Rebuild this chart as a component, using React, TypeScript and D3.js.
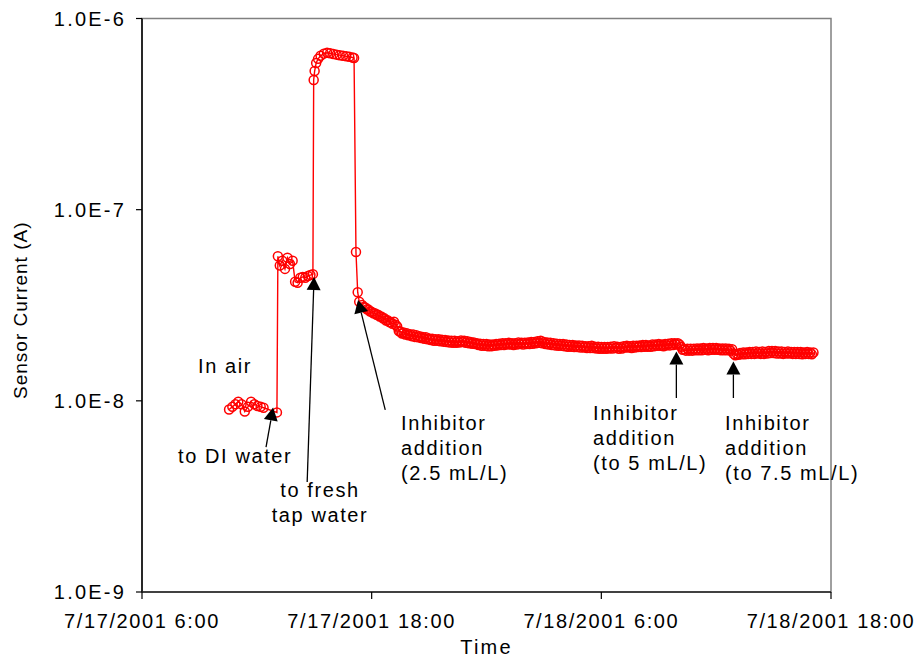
import React from "react";
import * as d3 from "d3";

// Sensor current log, 7/17/2001 - 7/18/2001
// Hour offsets are counted from 7/17/2001 0:00 (UTC used throughout).
const DAY0 = Date.UTC(2001, 6, 17);

const xTickHours = [6, 18, 30, 42];
const yTickValues = [1e-9, 1e-8, 1e-7, 1e-6];
const yTickLabels = ["1.0E-9", "1.0E-8", "1.0E-7", "1.0E-6"];

// Readings before the steady decay (hours, nA)
const earlyHours = [
  10.55, 10.72, 10.88, 11.03, 11.2, 11.37, 11.53, 11.7, 11.87, 12.03, 12.2, 12.35,
  13.05, 13.1, 13.2, 13.33, 13.47, 13.6, 13.73, 13.87, 14.0, 14.13, 14.27, 14.4,
  14.53, 14.67, 14.8, 14.93, 14.97, 15.02, 15.1, 15.2, 15.33, 15.5, 15.67, 15.83,
  16.0, 16.17, 16.33, 16.5, 16.67, 16.83, 17.0, 17.08, 17.18, 17.27, 17.35,
];
const earlyNA = [
  9.0, 9.3, 9.6, 9.9, 9.6, 8.8, 9.3, 9.9, 9.6, 9.4, 9.3, 9.2,
  8.7, 57, 51, 54, 49, 56, 52, 54, 42, 41.5, 44, 44.5,
  44, 45, 45.5, 46, 477, 531, 585, 615, 638, 655, 662, 658,
  652, 647, 643, 639, 634, 630, 625, 621, 60, 37, 33,
];

// Continuous logging from 17:30 on 7/17, one reading every 5 minutes (nA)
const bandStartHour = 17.5;
const bandStepMinutes = 5;
const bandNA = [
  31.7, 31.0, 30.8, 30.1, 30.0, 29.3, 29.2, 28.7, 28.7, 28.2, 28.2, 27.6,
  27.6, 27.0, 27.0, 26.3, 26.4, 25.8, 25.8, 25.3, 25.9, 25.0, 24.5, 23.2,
  23.0, 22.5, 22.8, 22.2, 22.6, 22.0, 22.3, 21.8, 22.2, 21.6, 22.0, 21.5,
  21.8, 21.3, 21.6, 21.1, 21.5, 21.0, 21.2, 20.8, 21.1, 20.6, 21.0, 20.6,
  21.0, 20.5, 20.9, 20.4, 20.8, 20.3, 20.7, 20.2, 20.6, 20.1, 20.6, 20.1,
  20.5, 20.2, 20.7, 20.3, 20.6, 20.1, 20.5, 20.0, 20.3, 19.9, 20.2, 19.8,
  20.0, 19.6, 19.9, 19.4, 19.8, 19.4, 19.8, 19.3, 19.7, 19.3, 19.7, 19.4,
  19.8, 19.5, 19.9, 19.6, 20.0, 19.6, 20.0, 19.7, 20.1, 19.7, 20.0, 19.6,
  20.0, 19.7, 20.2, 19.8, 20.1, 19.7, 20.1, 19.8, 20.2, 19.8, 20.3, 19.9,
  20.3, 20.0, 20.5, 20.1, 20.6, 20.0, 20.3, 19.8, 20.2, 19.7, 20.1, 19.6,
  20.0, 19.5, 19.9, 19.4, 19.8, 19.4, 19.8, 19.3, 19.7, 19.2, 19.6, 19.2,
  19.6, 19.1, 19.5, 19.1, 19.5, 19.0, 19.4, 19.0, 19.3, 18.9, 19.3, 18.9,
  19.4, 18.9, 19.2, 18.8, 19.2, 18.7, 19.1, 18.7, 19.1, 18.7, 19.1, 18.8,
  19.2, 18.8, 19.3, 18.9, 19.2, 18.7, 19.1, 18.8, 19.3, 19.0, 19.4, 19.0,
  19.3, 18.9, 19.4, 19.0, 19.4, 19.1, 19.5, 19.1, 19.6, 19.2, 19.6, 19.2,
  19.5, 19.2, 19.7, 19.3, 19.7, 19.4, 19.8, 19.4, 19.7, 19.3, 19.8, 19.5,
  19.9, 19.5, 20.0, 19.6, 20.0, 19.7, 20.0, 19.7, 19.2, 18.5, 18.6, 18.3,
  18.7, 18.3, 18.7, 18.3, 18.7, 18.4, 18.8, 18.4, 18.8, 18.4, 18.9, 18.5,
  18.8, 18.4, 18.9, 18.5, 18.9, 18.5, 18.9, 18.5, 18.8, 18.4, 18.8, 18.4,
  18.8, 18.4, 18.7, 18.3, 18.6, 17.6, 17.3, 17.6, 17.4, 17.8, 17.5, 17.9,
  17.5, 17.9, 17.6, 18.0, 17.6, 18.0, 17.6, 18.1, 17.7, 18.0, 17.6, 18.1,
  17.6, 18.0, 17.7, 18.2, 17.8, 18.2, 17.8, 18.2, 17.7, 18.1, 17.7, 18.1,
  17.6, 18.0, 17.7, 18.1, 17.7, 18.0, 17.6, 18.0, 17.6, 18.0, 17.6, 18.0,
  17.5, 17.9, 17.6, 18.0, 17.6, 17.9, 17.5, 17.9,
];

// Annotation arrows: tail and tip as [hour, current in A]
const arrowTails = [
  [12.48, 5.73e-9],
  [14.63, 3.76e-9],
  [18.71, 8.96e-9],
  [33.92, 1.035e-8],
  [36.9, 1.035e-8],
];
const arrowTips = [
  [12.85, 9.23e-9],
  [14.99, 4.44e-8],
  [17.29, 3.37e-8],
  [33.92, 1.81e-8],
  [36.9, 1.606e-8],
];

// Annotation text blocks
const noteLines = [
  ["In air"],
  ["to DI water"],
  ["to fresh", "tap water"],
  ["Inhibitor", "addition", "(2.5 mL/L)"],
  ["Inhibitor", "addition", "(to 5 mL/L)"],
  ["Inhibitor", "addition", "(to 7.5 mL/L)"],
];
const noteLayout = [
  { x: 198, y: 373, anchor: "start" },
  { x: 178, y: 463, anchor: "start" },
  { x: 320, y: 497, anchor: "middle" },
  { x: 401, y: 430, anchor: "start" },
  { x: 593, y: 420, anchor: "start" },
  { x: 725, y: 430, anchor: "start" },
];

const W = 918;
const H = 660;
const plot = { left: 142, right: 831, top: 18.5, bottom: 592 };
const FONT = "'Liberation Sans', Arial, sans-serif";

const hourToDate = (h: number) => new Date(DAY0 + h * 3600e3);

export default function App() {
  const x = d3
    .scaleUtc()
    .domain([hourToDate(6), hourToDate(42)])
    .range([plot.left, plot.right]);
  const y = d3.scaleLog().domain([1e-9, 1e-6]).range([plot.bottom, plot.top]);

  const fmt = d3.utcFormat("%-m/%-d/%Y %-H:%M");

  const points = [
    ...earlyHours.map((h, i) => ({ t: hourToDate(h), v: earlyNA[i] * 1e-9 })),
    ...bandNA.map((v, i) => ({
      t: hourToDate(bandStartHour + (i * bandStepMinutes) / 60),
      v: v * 1e-9,
    })),
  ];

  const line = d3
    .line<{ t: Date; v: number }>()
    .x((d) => x(d.t))
    .y((d) => y(d.v));

  const arrows = arrowTails.map((tail, i) => {
    const tip = arrowTips[i];
    const x0 = x(hourToDate(tail[0]));
    const y0 = y(tail[1]);
    const x1 = x(hourToDate(tip[0]));
    const y1 = y(tip[1]);
    const ang = Math.atan2(y1 - y0, x1 - x0);
    const len = 13;
    const half = 7;
    const bx = x1 - len * Math.cos(ang);
    const by = y1 - len * Math.sin(ang);
    const px = -Math.sin(ang) * half;
    const py = Math.cos(ang) * half;
    return {
      x0,
      y0,
      bx,
      by,
      head: `M${x1},${y1}L${bx + px},${by + py}L${bx - px},${by - py}Z`,
    };
  });

  return (
    <svg
      width={W}
      height={H}
      style={{ position: "absolute", left: 0, top: 0, background: "#fff" }}
      fontFamily={FONT}
    >
      <rect x={0} y={0} width={W} height={H} fill="#fff" />
      {/* plot frame */}
      <rect
        x={plot.left}
        y={plot.top}
        width={plot.right - plot.left}
        height={plot.bottom - plot.top}
        fill="none"
        stroke="#808080"
        strokeWidth={1.5}
      />
      {/* axes */}
      <line x1={plot.left} x2={plot.left} y1={plot.top} y2={plot.bottom} stroke="#000" strokeWidth={1.5} />
      <line x1={plot.left} x2={plot.right} y1={plot.bottom} y2={plot.bottom} stroke="#222" strokeWidth={1.5} />
      {yTickValues.map((v, i) => (
        <g key={"yt" + i}>
          <line x1={plot.left - 6} x2={plot.left} y1={y(v)} y2={y(v)} stroke="#000" strokeWidth={1.2} />
          <text
            x={126}
            y={y(v) + 7}
            textAnchor="end"
            fontSize={20}
            letterSpacing={2.2}
            fill="#000"
          >
            {yTickLabels[i]}
          </text>
        </g>
      ))}
      {xTickHours.map((h, i) => {
        const xv = x(hourToDate(h));
        return (
          <g key={"xt" + i}>
            <line x1={xv} x2={xv} y1={plot.bottom} y2={plot.bottom + 7} stroke="#000" strokeWidth={1.2} />
            <text x={xv} y={628} textAnchor="middle" fontSize={20} letterSpacing={1.6} fill="#000">
              {fmt(hourToDate(h))}
            </text>
          </g>
        );
      })}
      <text x={(plot.left + plot.right) / 2} y={654} textAnchor="middle" fontSize={20} letterSpacing={2.2}>
        Time
      </text>
      <text
        transform={`translate(27,${(plot.top + plot.bottom) / 2 + 5}) rotate(-90)`}
        textAnchor="middle"
        fontSize={19}
        letterSpacing={1}
      >
        Sensor Current (A)
      </text>

      {/* series */}
      <path d={line(points) || ""} fill="none" stroke="#ff0000" strokeWidth={1.4} />
      {points.map((d, i) => (
        <circle key={i} cx={x(d.t)} cy={y(d.v)} r={4.5} fill="none" stroke="#ff0000" strokeWidth={1.5} />
      ))}

      {/* annotations */}
      {arrows.map((a, i) => (
        <g key={"ar" + i}>
          <line x1={a.x0} y1={a.y0} x2={a.bx} y2={a.by} stroke="#000" strokeWidth={1.3} />
          <path d={a.head} fill="#000" />
        </g>
      ))}
      {noteLines.map((lines, i) => (
        <text
          key={"nt" + i}
          x={noteLayout[i].x}
          y={noteLayout[i].y}
          textAnchor={noteLayout[i].anchor}
          fontSize={20}
          letterSpacing={1.6}
          fill="#000"
        >
          {lines.map((ln, j) => (
            <tspan key={j} x={noteLayout[i].x} dy={j === 0 ? 0 : 25}>
              {ln}
            </tspan>
          ))}
        </text>
      ))}
    </svg>
  );
}
